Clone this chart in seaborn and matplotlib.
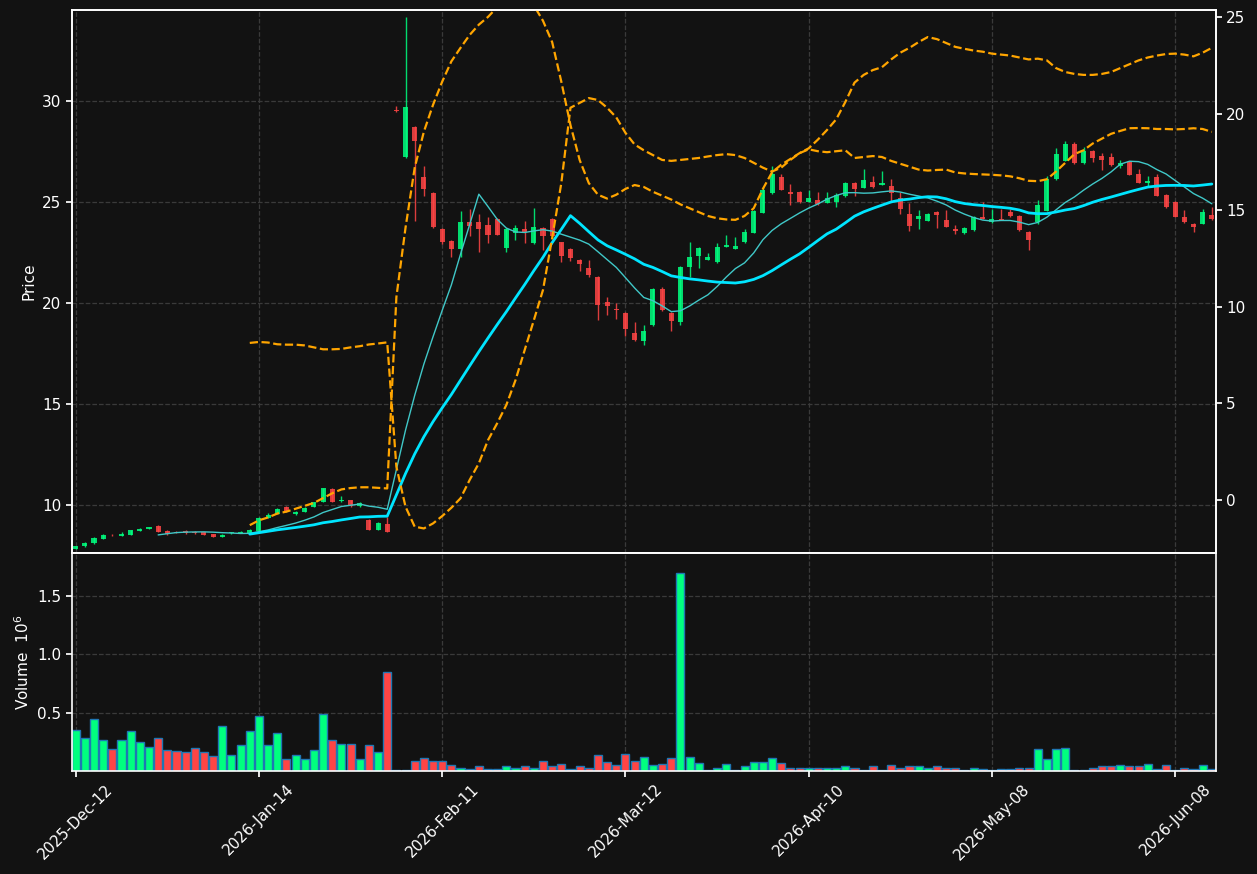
import numpy as np
import pandas as pd
import seaborn as sns
import matplotlib
matplotlib.use("Agg")
import matplotlib.pyplot as plt

# daily bars, Dec-2025 .. Jun-2026 (one row per trading day)
opens = [7.82, 7.97, 8.09, 8.33, 8.52, 8.48, 8.51, 8.73, 8.83, 8.96,
         8.71, 8.66, 8.70, 8.68, 8.65, 8.56, 8.43, 8.61, 8.61, 8.60,
         8.71, 9.37, 9.55, 9.90, 9.57, 9.67, 9.92, 10.15, 10.79, 10.17,
         10.22, 9.95, 9.27, 8.77, 9.03, 29.55, 27.20, 28.72, 26.25, 25.43,
         23.65, 23.07, 22.69, 24.00, 24.00, 23.85, 24.17, 22.74, 23.44, 23.65,
         22.95, 23.72, 24.17, 23.00, 22.67, 22.14, 21.74, 21.30, 20.03, 19.69,
         19.51, 18.52, 18.09, 18.92, 20.69, 19.51, 19.05, 21.77, 22.34, 22.12,
         22.00, 22.78, 22.69, 23.00, 23.47, 24.46, 25.42, 26.25, 25.50, 25.50,
         25.00, 25.09, 24.95, 24.98, 25.28, 25.95, 25.70, 25.99, 25.85, 25.78,
         25.20, 24.40, 24.13, 24.06, 24.50, 24.11, 23.65, 23.44, 23.60, 24.25,
         23.99, 24.17, 24.51, 24.30, 23.51, 23.99, 24.57, 26.11, 27.03, 27.88,
         26.91, 27.52, 27.26, 27.24, 26.80, 26.98, 26.39, 25.92, 26.25, 25.35,
         25.00, 24.27, 23.92, 23.92, 24.36]
highs = [7.97, 8.14, 8.40, 8.56, 8.55, 8.66, 8.78, 8.88, 8.92, 9.00,
         8.76, 8.70, 8.76, 8.72, 8.68, 8.58, 8.56, 8.67, 8.70, 8.82,
         9.42, 9.58, 9.83, 9.94, 9.70, 9.88, 10.15, 10.86, 10.82, 10.45,
         10.25, 10.14, 9.30, 9.14, 9.41, 29.75, 34.15, 28.75, 26.77, 25.47,
         23.70, 23.10, 24.55, 24.64, 24.40, 24.25, 24.20, 23.70, 23.85, 24.05,
         24.70, 23.75, 24.20, 23.03, 22.70, 22.17, 22.14, 21.33, 20.30, 20.00,
         19.54, 19.05, 18.90, 20.72, 20.80, 19.54, 21.82, 23.00, 22.76, 22.47,
         22.95, 23.38, 23.26, 23.65, 24.62, 25.75, 26.80, 26.40, 25.90, 25.53,
         25.60, 25.50, 25.50, 25.43, 25.98, 25.98, 26.65, 26.30, 26.55, 26.13,
         25.50, 24.95, 24.60, 24.45, 24.53, 24.60, 23.87, 23.76, 24.28, 24.98,
         24.63, 24.63, 24.65, 24.33, 23.54, 25.10, 26.30, 27.65, 28.00, 27.95,
         27.70, 27.55, 27.40, 27.40, 27.05, 27.01, 26.65, 26.28, 26.40, 25.38,
         25.03, 24.60, 23.95, 24.65, 24.77]
lows = [7.80, 7.94, 8.07, 8.30, 8.46, 8.46, 8.50, 8.71, 8.82, 8.66,
        8.53, 8.60, 8.58, 8.56, 8.50, 8.40, 8.41, 8.58, 8.59, 8.58,
        8.68, 9.34, 9.53, 9.64, 9.52, 9.63, 9.90, 10.13, 10.13, 10.12,
        9.92, 9.92, 8.76, 8.75, 8.66, 29.45, 27.18, 24.05, 25.30, 23.70,
        22.90, 22.29, 22.29, 23.30, 22.50, 22.95, 23.35, 22.50, 23.09, 22.95,
        22.92, 22.64, 23.27, 22.00, 22.08, 21.60, 21.30, 19.17, 19.40, 19.20,
        18.35, 18.13, 17.93, 18.88, 19.62, 18.60, 18.90, 21.30, 21.74, 22.10,
        21.97, 22.75, 22.66, 22.97, 23.44, 24.43, 25.39, 25.57, 24.85, 24.95,
        24.97, 24.83, 24.92, 24.75, 25.25, 25.30, 25.67, 25.70, 25.82, 25.00,
        24.40, 23.55, 23.65, 24.03, 23.70, 23.75, 23.40, 23.41, 23.57, 24.14,
        23.96, 24.08, 24.26, 23.57, 22.60, 23.90, 24.54, 26.08, 27.00, 26.88,
        26.88, 26.95, 26.60, 26.78, 26.70, 26.32, 25.92, 25.80, 25.27, 24.71,
        24.24, 23.96, 23.50, 23.89, 24.10]
closes = [7.95, 8.09, 8.37, 8.51, 8.49, 8.58, 8.76, 8.81, 8.91, 8.68,
          8.55, 8.63, 8.60, 8.60, 8.53, 8.43, 8.51, 8.64, 8.68, 8.76,
          9.34, 9.50, 9.80, 9.67, 9.67, 9.85, 10.13, 10.84, 10.16, 10.25,
          9.95, 10.10, 8.77, 9.11, 8.68, 29.50, 29.69, 28.02, 25.64, 23.77,
          23.00, 22.69, 24.00, 23.82, 23.68, 23.38, 23.38, 23.68, 23.72, 23.50,
          23.77, 23.30, 23.30, 22.30, 22.22, 21.91, 21.39, 19.91, 19.83, 19.64,
          18.70, 18.18, 18.61, 20.69, 19.65, 19.08, 21.79, 22.29, 22.73, 22.29,
          22.78, 22.86, 22.83, 23.52, 24.57, 25.60, 26.37, 25.60, 25.40, 24.98,
          25.20, 24.90, 25.20, 25.33, 25.95, 25.64, 26.10, 25.73, 25.95, 25.42,
          24.65, 23.82, 24.30, 24.40, 24.34, 23.78, 23.54, 23.73, 24.25, 24.17,
          24.17, 24.11, 24.29, 23.60, 23.10, 24.86, 26.15, 27.38, 27.88, 26.91,
          27.52, 27.17, 27.05, 26.81, 26.90, 26.35, 25.95, 26.03, 25.30, 24.74,
          24.27, 23.99, 23.78, 24.51, 24.13]
volumes = [350000, 280000, 445000, 270000, 190000, 270000, 340000, 250000, 210000, 280000,
           180000, 170000, 160000, 200000, 160000, 130000, 390000, 140000, 220000, 340000,
           470000, 220000, 325000, 100000, 135000, 100000, 180000, 490000, 265000, 230000,
           230000, 100000, 220000, 160000, 850000, 12000, 12000, 90000, 110000, 83000,
           90000, 50000, 30000, 15000, 40000, 20000, 20000, 40000, 30000, 40000,
           30000, 83000, 40000, 57000, 15000, 40000, 30000, 135000, 75000, 50000,
           145000, 90000, 120000, 50000, 57000, 110000, 1700000, 120000, 66000, 12000,
           30000, 57000, 12000, 40000, 75000, 75000, 110000, 66000, 30000, 23000,
           30000, 23000, 30000, 23000, 40000, 23000, 12000, 40000, 5000, 50000,
           23000, 40000, 40000, 30000, 40000, 23000, 23000, 12000, 30000, 15000,
           5000, 15000, 15000, 30000, 30000, 190000, 100000, 190000, 195000, 12000,
           5000, 23000, 40000, 40000, 50000, 40000, 40000, 57000, 15000, 50000,
           5000, 23000, 15000, 50000, 15000]

# the two orange dashed bands (right-hand axis), first 19 bars empty
band_a = [np.nan] * 19 + [
    8.13, 8.18, 8.15, 8.06, 8.04, 8.04, 8.00, 7.90, 7.80, 7.80,
    7.82, 7.90, 7.96, 8.05, 8.10, 8.16, 1.72, -0.35, -1.38, -1.47,
    -1.21, -0.83, -0.40, 0.09, 1.04, 1.90, 3.10, 3.97, 4.92, 6.20,
    7.76, 9.30, 10.87, 13.55, 16.40, 20.30, 20.55, 20.80, 20.70, 20.30,
    19.80, 19.00, 18.40, 18.10, 17.85, 17.60, 17.55, 17.60, 17.65, 17.70,
    17.78, 17.85, 17.90, 17.85, 17.70, 17.45, 17.20, 17.00, 17.20, 17.60,
    17.95, 18.15, 18.05, 18.00, 18.05, 18.10, 17.70, 17.75, 17.80, 17.75,
    17.55, 17.40, 17.25, 17.10, 17.05, 17.08, 17.10, 16.95, 16.90, 16.87,
    16.85, 16.83, 16.80, 16.75, 16.65, 16.52, 16.50, 16.60, 17.00, 17.45,
    17.90, 18.10, 18.45, 18.70, 18.95, 19.10, 19.24, 19.25, 19.24, 19.20,
    19.20, 19.18, 19.20, 19.24, 19.20, 19.05]
band_b = [np.nan] * 19 + [
    -1.30, -1.05, -0.90, -0.70, -0.60, -0.45, -0.30, -0.15, 0.10, 0.35,
    0.55, 0.62, 0.66, 0.66, 0.63, 0.60, 10.50, 14.10, 17.20, 19.06,
    20.45, 21.65, 22.70, 23.40, 24.07, 24.60, 25.00, 25.50, 26.20, 26.50,
    26.30, 25.60, 24.80, 23.70, 21.65, 19.40, 17.60, 16.40, 15.80, 15.60,
    15.80, 16.10, 16.30, 16.20, 15.95, 15.75, 15.55, 15.30, 15.10, 14.90,
    14.70, 14.58, 14.52, 14.50, 14.70, 15.10, 16.10, 16.96, 17.35, 17.65,
    17.95, 18.20, 18.65, 19.15, 19.70, 20.60, 21.60, 22.00, 22.25, 22.40,
    22.80, 23.15, 23.40, 23.70, 23.96, 23.85, 23.65, 23.45, 23.35, 23.26,
    23.20, 23.10, 23.05, 23.00, 22.90, 22.80, 22.84, 22.75, 22.35, 22.15,
    22.05, 22.00, 22.00, 22.05, 22.15, 22.35, 22.55, 22.75, 22.90, 23.00,
    23.08, 23.10, 23.05, 22.96, 23.15, 23.40]

tick_labels = ["2025-Dec-12", "2026-Jan-14", "2026-Feb-11", "2026-Mar-12",
               "2026-Apr-10", "2026-May-08", "2026-Jun-08"]

BG = "#121212"
UP, DOWN = "#00ff7f", "#ff4545"

df = pd.DataFrame({"open": opens, "high": highs, "low": lows, "close": closes,
                   "volume": volumes, "band_a": band_a, "band_b": band_b})
df["x"] = np.arange(len(df))
df["dir"] = np.where(df["close"] >= df["open"], "up", "down")
df["ma10"] = df["close"].rolling(10).mean()
df["ma20"] = df["close"].rolling(20).mean()
df["vol_m"] = df["volume"] / 1e6

sns.set_theme(style="dark", rc={
    "figure.facecolor": BG, "axes.facecolor": BG, "axes.edgecolor": "white",
    "axes.labelcolor": "white", "text.color": "white",
    "xtick.color": "white", "ytick.color": "white",
    "axes.grid": True, "grid.color": "#3a3a3a", "grid.linestyle": "--",
    "grid.linewidth": 0.9, "xtick.bottom": True, "ytick.left": True,
    "xtick.major.size": 4, "ytick.major.size": 4,
    "xtick.labelsize": 11, "ytick.labelsize": 11, "axes.labelsize": 11,
})
plt.rcParams["font.family"] = ["DejaVu Sans"]

fig = plt.figure(figsize=(12.57, 8.74), dpi=100)
ax = fig.add_axes([0.0573, 0.3673, 0.9097, 0.6213])
axv = fig.add_axes([0.0573, 0.1178, 0.9097, 0.2494], sharex=ax)

# candles
colors = np.where(df["dir"] == "up", UP, DOWN)
ax.vlines(df["x"], df["low"], df["high"], colors=colors, linewidth=1, alpha=0.85, zorder=2)
body = (df["close"] - df["open"]).abs().clip(lower=0.04)
ax.bar(df["x"], body, bottom=df[["open", "close"]].min(axis=1), width=0.55,
       color=colors, alpha=0.85, linewidth=0, zorder=3)

# moving averages
sns.lineplot(data=df, x="x", y="ma10", ax=ax, color="#40c8c8", linewidth=1, zorder=4)
sns.lineplot(data=df, x="x", y="ma20", ax=ax, color="#00e5ff", linewidth=2, zorder=4)
ax.set_ylim(7.62, 34.5)
ax.set_ylabel("Price")
ax.set_xlabel("")
ax.tick_params(axis="x", labelbottom=False, length=0)

# bands on secondary axis
ax2 = ax.twinx()
sns.lineplot(data=df, x="x", y="band_a", ax=ax2, color="#ffa500", linewidth=1.6, linestyle="--")
sns.lineplot(data=df, x="x", y="band_b", ax=ax2, color="#ffa500", linewidth=1.6, linestyle="--")
ax2.set_ylim(-2.74, 25.36)
ax2.set_yticks([0, 5, 10, 15, 20, 25])
ax2.set_ylabel("")
ax2.grid(False)
ax2.tick_params(axis="y", right=True, length=4, labelsize=11)

# volume
sns.barplot(data=df, x="x", y="vol_m", hue="dir", palette={"up": UP, "down": DOWN},
            native_scale=True, dodge=False, width=0.88, saturation=1,
            edgecolor="#1f77b4", linewidth=1, errorbar=None, legend=False, ax=axv)
axv.set_ylim(0, 1.87)
axv.set_yticks([0.5, 1.0, 1.5])
axv.set_ylabel("Volume  $10^{6}$")
axv.set_xlabel("")
axv.set_xticks(df["x"][::20])
axv.set_xticklabels(tick_labels, rotation=45, ha="center")
ax.set_xlim(-0.4, len(df) - 0.6)

for a in (ax, ax2, axv):
    for s in a.spines.values():
        s.set_color("white")
        s.set_linewidth(1.2)

fig.savefig("out.png", dpi=100, facecolor=BG)
